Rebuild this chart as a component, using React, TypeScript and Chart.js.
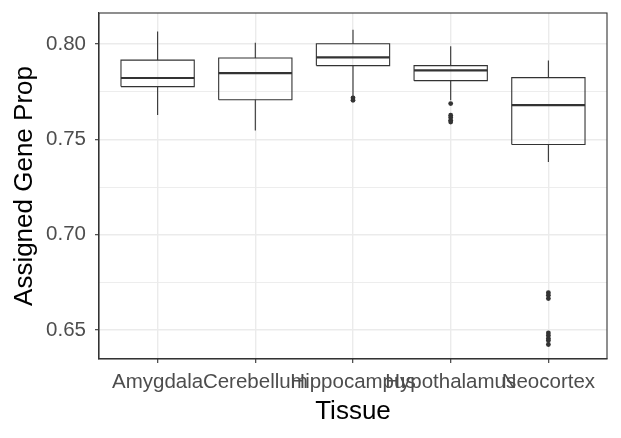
import React, { useEffect, useRef } from "react";
import { Chart, registerables } from "chart.js";

Chart.register(...registerables);

const categories = ["Amygdala", "Cerebellum", "Hippocampus", "Hypothalamus", "Neocortex"];
const whiskerLow = [0.7628, 0.7546, 0.7727, 0.7705, 0.7382];
const q1 = [0.7777, 0.7708, 0.7887, 0.7808, 0.7473];
const median = [0.7822, 0.7848, 0.793, 0.7862, 0.768];
const q3 = [0.7916, 0.7927, 0.8002, 0.7887, 0.7824];
const whiskerHigh = [0.8066, 0.8007, 0.8075, 0.7988, 0.7914];
const outliers: number[][] = [
  [],
  [],
  [0.7718, 0.7705],
  [0.7688, 0.7627, 0.7615, 0.76, 0.7591],
  [0.6696, 0.6683, 0.6665, 0.6485, 0.6471, 0.6456, 0.6445, 0.6424],
];
const yTickValues = [0.65, 0.675, 0.7, 0.725, 0.75, 0.775, 0.8];
const yMajorTicks = [0.65, 0.7, 0.75, 0.8];

const BOX_HALF = 0.375;
const INK = "#333333";
const FONT = "'Liberation Sans', Arial, sans-serif";

const isMajor = (v: number) => yMajorTicks.some((m) => Math.abs(m - v) < 1e-9);

export default function App() {
  const ref = useRef<HTMLCanvasElement | null>(null);

  useEffect(() => {
    if (!ref.current) return;
    const datasets: any[] = [];
    categories.forEach((_, i) => {
      const x = i + 1;
      const line = (data: any[], width: number) => ({
        type: "line",
        data,
        borderColor: INK,
        borderWidth: width,
        pointRadius: 0,
        fill: false,
        tension: 0,
        borderCapStyle: "butt",
        borderJoinStyle: "miter",
      });
      datasets.push(line([{ x, y: q3[i] }, { x, y: whiskerHigh[i] }], 1.1));
      datasets.push(line([{ x, y: q1[i] }, { x, y: whiskerLow[i] }], 1.1));
      datasets.push(
        line(
          [
            { x: x - BOX_HALF, y: q1[i] },
            { x: x + BOX_HALF, y: q1[i] },
            { x: x + BOX_HALF, y: q3[i] },
            { x: x - BOX_HALF, y: q3[i] },
            { x: x - BOX_HALF, y: q1[i] },
          ],
          1.1
        )
      );
      datasets.push(
        line(
          [
            { x: x - BOX_HALF, y: median[i] },
            { x: x + BOX_HALF, y: median[i] },
          ],
          2.2
        )
      );
    });
    datasets.push({
      type: "scatter",
      data: outliers.flatMap((arr, i) => arr.map((y) => ({ x: i + 1, y }))),
      backgroundColor: INK,
      borderWidth: 0,
      pointRadius: 2.4,
    });

    const borderPlugin = {
      id: "panelBorder",
      afterDraw(chart: any) {
        const { ctx, chartArea } = chart;
        ctx.save();
        ctx.strokeStyle = INK;
        ctx.lineWidth = 1.1;
        ctx.strokeRect(chartArea.left, chartArea.top, chartArea.right - chartArea.left, chartArea.bottom - chartArea.top);
        ctx.restore();
      },
    };

    const chart = new Chart(ref.current, {
      type: "line",
      data: { datasets },
      plugins: [borderPlugin],
      options: {
        animation: false,
        responsive: false,
        layout: { padding: { top: 13, right: 14, left: 0, bottom: 0 } },
        plugins: { legend: { display: false }, tooltip: { enabled: false } },
        scales: {
          x: {
            type: "linear",
            min: 0.4,
            max: 5.6,
            afterBuildTicks: (scale: any) => {
              scale.ticks = categories.map((_, i) => ({ value: i + 1 }));
            },
            afterFit: (scale: any) => {
              scale.height = 79;
              scale.paddingLeft = 0;
              scale.paddingRight = 0;
            },
            ticks: {
              autoSkip: false,
              maxRotation: 0,
              minRotation: 0,
              padding: 7,
              color: "#4D4D4D",
              font: { family: FONT, size: 20.5 },
              callback: (v: any) => categories[Math.round(Number(v)) - 1] ?? "",
            },
            grid: {
              color: "#EBEBEB",
              lineWidth: 1.4,
              tickLength: 4,
              tickColor: INK,
              tickWidth: 1.1,
            },
            border: { display: true, color: INK, width: 1.1 },
            title: {
              display: true,
              text: "Tissue",
              color: "#000000",
              font: { family: FONT, size: 26 },
              padding: { top: 0, bottom: 11 },
            },
          },
          y: {
            type: "linear",
            min: 0.6348,
            max: 0.8163,
            afterBuildTicks: (scale: any) => {
              scale.ticks = yTickValues.map((v) => ({ value: v }));
            },
            afterFit: (scale: any) => {
              scale.width = 99;
              scale.paddingTop = 0;
              scale.paddingBottom = 0;
            },
            ticks: {
              padding: 9,
              color: "#4D4D4D",
              font: { family: FONT, size: 20.5 },
              callback: (v: any) => (isMajor(Number(v)) ? Number(v).toFixed(2) : ""),
            },
            grid: {
              color: "#EBEBEB",
              lineWidth: (ctx: any) => (ctx.tick && isMajor(ctx.tick.value) ? 1.4 : 0.9),
              tickLength: 4,
              tickColor: (ctx: any) => (ctx.tick && isMajor(ctx.tick.value) ? INK : "rgba(0,0,0,0)"),
              tickWidth: 1.1,
            },
            border: { display: true, color: INK, width: 1.1 },
            title: {
              display: true,
              text: "Assigned Gene Prop",
              color: "#000000",
              font: { family: FONT, size: 26 },
              padding: { top: 9, bottom: 0 },
            },
          },
        },
      } as any,
    });
    return () => chart.destroy();
  }, []);

  return (
    <div style={{ position: "absolute", left: 0, top: 0, width: 621, height: 438, background: "#ffffff" }}>
      <canvas ref={ref} width={621} height={438} style={{ display: "block" }} />
    </div>
  );
}
